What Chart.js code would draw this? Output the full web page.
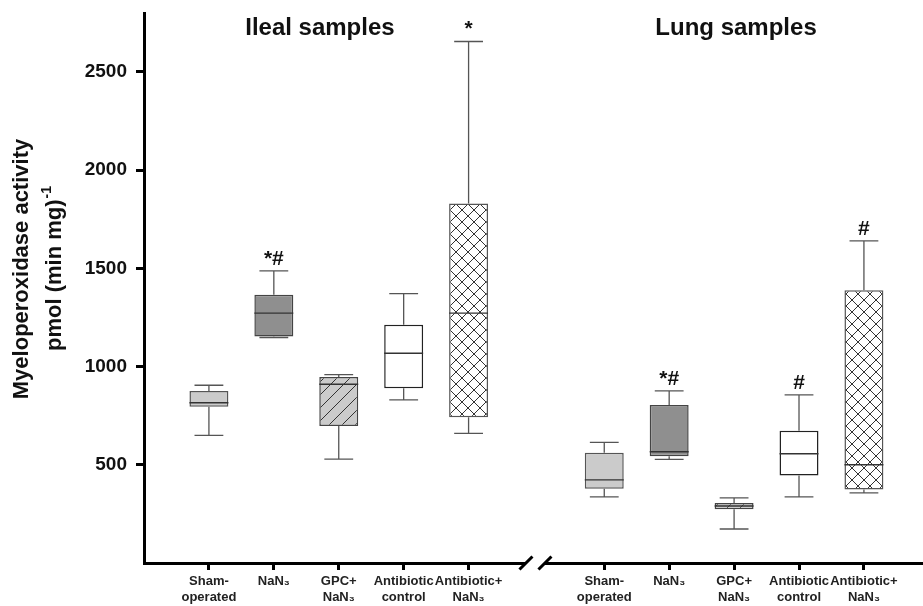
<!DOCTYPE html>
<html>
<head>
<meta charset="utf-8">
<script src="https://cdn.jsdelivr.net/npm/chart.js@4.4.1/dist/chart.umd.min.js"></script>
<style>
    body { margin: 0; background: #fff; }
    #wrap { width: 923px; height: 606px; }
</style>
</head>
<body>
<div id="wrap"><canvas id="mpoChart" width="923" height="606"></canvas></div>
<script>
//  =========== DATA ==============
const panelTitles = ['Ileal samples', 'Lung samples'];
const tickLabels = [['Sham-', 'operated'], ['NaN₃'], ['GPC+', 'NaN₃'], ['Antibiotic', 'control'], ['Antibiotic+', 'NaN₃']];
const yTicks = [500, 1000, 1500, 2000, 2500];

// Ileal samples (box: Q1..Q3, whiskers: min..max)
const ilealMin    = [650, 1148, 529, 830, 660];
const ilealQ1     = [796, 1153, 697, 890, 742];
const ilealMedian = [816, 1272, 910, 1068, 1272];
const ilealQ3     = [876, 1366, 947, 1213, 1830];
const ilealMax    = [905, 1487, 959, 1371, 2655];
const ilealMarks  = ['', '*#', '', '', '*'];

// Lung samples
const lungMin    = [337, 528, 173, 337, 357];
const lungQ1     = [378, 544, 274, 446, 374];
const lungMedian = [423, 566, 290, 556, 500];
const lungQ3     = [561, 805, 305, 673, 1388];
const lungMax    = [614, 876, 332, 856, 1640];
const lungMarks  = ['', '*#', '', '#', '#'];

//  =========== STYLE HELPERS ==============
const FONT = '"Liberation Sans", Arial, Helvetica, sans-serif';
const LUNG_OFFSET = 7.09;   // x position of first lung box (ileal starts at 1)

function makeHatch(size, bg, crossed) {
    const c = document.createElement('canvas');
    c.width = size;
    c.height = size;
    const g = c.getContext('2d');
    g.fillStyle = bg;
    g.fillRect(0, 0, size, size);
    g.strokeStyle = '#333';
    g.lineWidth = 1;
    g.beginPath();
    g.moveTo(-1, size + 1); g.lineTo(size + 1, -1);
    g.moveTo(-2, 2); g.lineTo(2, -2);
    g.moveTo(size - 2, size + 2); g.lineTo(size + 2, size - 2);
    if (crossed) {
        g.moveTo(-1, -1); g.lineTo(size + 1, size + 1);
        g.moveTo(size - 2, -2); g.lineTo(size + 2, 2);
        g.moveTo(-2, size - 2); g.lineTo(2, size + 2);
    }
    g.stroke();
    return g.createPattern(c, 'repeat');
}

const boxFills = ['#cbcbcb', '#8f8f8f', makeHatch(13, '#cbcbcb', false), '#ffffff', makeHatch(12, '#ffffff', true)];
const boxBorders = ['#555', '#444', '#444', '#222', '#555'];

function boxData(q1, q3, offset) {
    return q1.map((v, i) => ({ x: i + offset, y: [v, q3[i]] }));
}

const positions = tickLabels.map((_, i) => i + 1).concat(tickLabels.map((_, i) => i + LUNG_OFFSET));
const allTickLabels = tickLabels.concat(tickLabels);

//  =========== PLUGIN: whiskers, medians, marks, titles ==============
const boxPlotExtras = {
    id: 'boxPlotExtras',
    afterDatasetsDraw(chart) {
        const ctx = chart.ctx;
        const yScale = chart.scales.y;
        ctx.save();
        chart.data.datasets.forEach((ds, di) => {
            const meta = chart.getDatasetMeta(di);
            meta.data.forEach((bar, i) => {
                const half = bar.width / 2;
                const cap = bar.width * 0.37;
                const pMin = yScale.getPixelForValue(ds.whiskerLow[i]);
                const pMax = yScale.getPixelForValue(ds.whiskerHigh[i]);
                const pQ1 = yScale.getPixelForValue(ds.data[i].y[0]);
                const pQ3 = yScale.getPixelForValue(ds.data[i].y[1]);
                const pMed = yScale.getPixelForValue(ds.medians[i]);

                ctx.strokeStyle = '#555';
                ctx.lineWidth = 1.3;
                ctx.beginPath();
                ctx.moveTo(bar.x, pQ3); ctx.lineTo(bar.x, pMax);
                ctx.moveTo(bar.x - cap, pMax); ctx.lineTo(bar.x + cap, pMax);
                ctx.moveTo(bar.x, pQ1); ctx.lineTo(bar.x, pMin);
                ctx.moveTo(bar.x - cap, pMin); ctx.lineTo(bar.x + cap, pMin);
                ctx.stroke();

                ctx.strokeStyle = '#333';
                ctx.lineWidth = 1.4;
                ctx.beginPath();
                ctx.moveTo(bar.x - half, pMed); ctx.lineTo(bar.x + half, pMed);
                ctx.stroke();

                if (ds.marks[i]) {
                    ctx.fillStyle = '#111';
                    ctx.font = 'bold 21px ' + FONT;
                    ctx.textAlign = 'center';
                    ctx.textBaseline = 'alphabetic';
                    ctx.fillText(ds.marks[i], bar.x, pMax - 6);
                }
            });
        });
        ctx.restore();
    },
    afterDraw(chart) {
        const ctx = chart.ctx;
        const xScale = chart.scales.x;
        const area = chart.chartArea;
        ctx.save();

        // axis break
        const bx = xScale.getPixelForValue(6.03);
        const by = area.bottom;
        ctx.fillStyle = '#fff';
        ctx.fillRect(bx - 9.5, by - 3, 19, 6);
        ctx.strokeStyle = '#000';
        ctx.lineWidth = 3;
        ctx.beginPath();
        [-9.5, 9.5].forEach(d => {
            ctx.moveTo(bx + d - 6.5, by + 6.5);
            ctx.lineTo(bx + d + 6.5, by - 6.5);
        });
        ctx.stroke();

        // panel titles
        ctx.fillStyle = '#111';
        ctx.font = 'bold 24px ' + FONT;
        ctx.textAlign = 'center';
        ctx.textBaseline = 'alphabetic';
        ctx.fillText(panelTitles[0], xScale.getPixelForValue(2.71), area.top + 22);
        ctx.fillText(panelTitles[1], xScale.getPixelForValue(9.12), area.top + 22);

        // y axis title
        ctx.translate(0, 269);
        ctx.rotate(-Math.PI / 2);
        ctx.font = 'bold 22px ' + FONT;
        ctx.fillText('Myeloperoxidase activity', 0, 28);
        const line2 = 'pmol (min mg)';
        const w2 = ctx.measureText(line2).width;
        ctx.font = 'bold 14px ' + FONT;
        const wSup = ctx.measureText('-1').width;
        const start = -(w2 + wSup) / 2;
        ctx.textAlign = 'left';
        ctx.font = 'bold 22px ' + FONT;
        ctx.fillText(line2, start, 61);
        ctx.font = 'bold 14px ' + FONT;
        ctx.fillText('-1', start + w2 + 1, 51);

        ctx.restore();
    }
};

//  =========== CHART ==============
const chart = new Chart(document.getElementById('mpoChart'), {
    type: 'bar',
    data: {
        datasets: [{
            label: panelTitles[0],
            data: boxData(ilealQ1, ilealQ3, 1),
            whiskerLow: ilealMin,
            whiskerHigh: ilealMax,
            medians: ilealMedian,
            marks: ilealMarks,
            backgroundColor: boxFills,
            borderColor: boxBorders,
            borderWidth: 1.5,
            borderSkipped: false,
            barPercentage: 0.6,
            categoryPercentage: 1
        }, {
            label: panelTitles[1],
            data: boxData(lungQ1, lungQ3, LUNG_OFFSET),
            whiskerLow: lungMin,
            whiskerHigh: lungMax,
            medians: lungMedian,
            marks: lungMarks,
            backgroundColor: boxFills,
            borderColor: boxBorders,
            borderWidth: 1.5,
            borderSkipped: false,
            barPercentage: 0.6,
            categoryPercentage: 1
        }]
    },
    options: {
        responsive: false,
        animation: false,
        grouped: false,
        layout: { padding: { top: 13, left: 0, right: 0, bottom: 0 } },
        plugins: {
            legend: { display: false },
            tooltip: { enabled: false }
        },
        scales: {
            x: {
                type: 'linear',
                min: 0,
                max: 12,
                offset: false,
                afterFit: s => { s.height = 43; s.paddingLeft = 0; s.paddingRight = 0; },
                afterBuildTicks: s => { s.ticks = positions.map(v => ({ value: v })); },
                border: { display: true, color: '#000', width: 3 },
                grid: { display: true, offset: false, drawOnChartArea: false, drawTicks: true, tickLength: 7, tickWidth: 3, tickColor: '#000' },
                ticks: {
                    autoSkip: false,
                    maxRotation: 0,
                    padding: 4,
                    color: '#222',
                    font: { family: FONT, size: 13, weight: 'bold', lineHeight: 1.2 },
                    callback: (value, index) => allTickLabels[index]
                }
            },
            y: {
                min: 0,
                max: 2800,
                afterFit: s => { s.width = 144; s.paddingTop = 0; s.paddingBottom = 0; },
                afterBuildTicks: s => { s.ticks = yTicks.map(v => ({ value: v })); },
                border: { display: true, color: '#000', width: 3 },
                grid: { display: true, drawOnChartArea: false, drawTicks: true, tickLength: 8, tickWidth: 3, tickColor: '#000' },
                ticks: {
                    padding: 9,
                    color: '#111',
                    font: { family: FONT, size: 19, weight: 'bold' },
                    callback: value => String(value)
                }
            }
        }
    },
    plugins: [boxPlotExtras]
});
</script>
</body>
</html>
